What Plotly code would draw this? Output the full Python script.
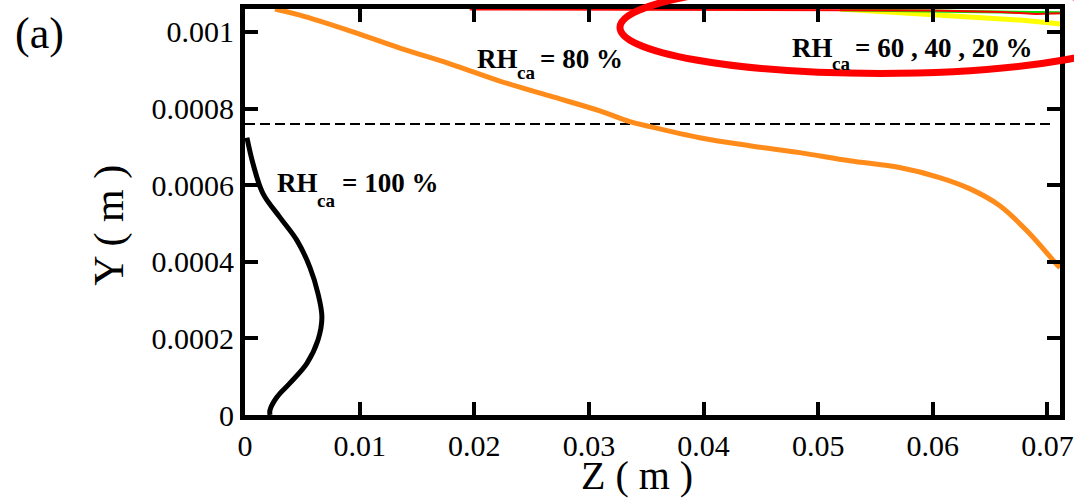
import plotly.graph_objects as go

# Z positions (m) and Y heights (m) of the liquid-water front for each cathode RH
z_rh100 = [0.00017, 0.0007, 0.00157, 0.00305, 0.00453, 0.00567, 0.00636, 0.00671,
           0.00636, 0.0054, 0.00392, 0.00279, 0.00218, 0.00218]
y_rh100 = [0.000724, 0.000656, 0.000578, 0.000516, 0.000456, 0.000385, 0.000318, 0.000255,
           0.000195, 0.000135, 0.0000833, 0.0000469, 0.000013, 0.0]

z_rh80 = [0.00262, 0.0048, 0.00915, 0.01351, 0.01787, 0.02223, 0.02659, 0.03095, 0.03357,
          0.03531, 0.03967, 0.04403, 0.04839, 0.05275, 0.0571, 0.06059, 0.06321, 0.06582,
          0.06844, 0.07088, 0.0711]
y_rh80 = [0.00106, 0.001044, 0.001003, 0.000958, 0.000917, 0.000872, 0.000833, 0.000794,
          0.000766, 0.000753, 0.000724, 0.000703, 0.000685, 0.000664, 0.000646, 0.00062,
          0.000591, 0.000547, 0.000474, 0.000391, 0.000385]

z_rh20 = [0.0519, 0.0560, 0.0597, 0.0640, 0.0676, 0.0708, 0.0711]
y_rh20 = [0.00106, 0.001052, 0.001046, 0.001039, 0.001031, 0.001022, 0.001021]

z_rh40 = [0.0519, 0.0560, 0.0620, 0.0660, 0.0700, 0.0711]
y_rh40 = [0.001058, 0.001056, 0.001053, 0.001052, 0.001051, 0.00105]

z_rh60 = [0.0196, 0.0300, 0.0400, 0.0500, 0.0600, 0.0660, 0.0690, 0.0711]
y_rh60 = [0.001059, 0.001058, 0.001058, 0.001057, 0.001056, 0.001052, 0.001047, 0.001049]

# channel / GDL interface height
z_interface = [0.0, 0.0705]
y_interface = [0.00076, 0.00076]

x_ticks = [0, 0.01, 0.02, 0.03, 0.04, 0.05, 0.06, 0.07]
x_tick_labels = ["0", "0.01", "0.02", "0.03", "0.04", "0.05", "0.06", "0.07"]
y_ticks = [0, 0.0002, 0.0004, 0.0006, 0.0008, 0.001]
y_tick_labels = ["0", "0.0002", "0.0004", "0.0006", "0.0008", "0.001"]

SERIF = "Liberation Serif, Times New Roman, serif"

fig = go.Figure()
fig.add_trace(go.Scatter(x=z_interface, y=y_interface, mode="lines",
                         line=dict(color="black", width=2, dash="10px,5px")))
fig.add_trace(go.Scatter(x=z_rh100, y=y_rh100, mode="lines",
                         line=dict(color="black", width=5, shape="spline")))
fig.add_trace(go.Scatter(x=z_rh80, y=y_rh80, mode="lines",
                         line=dict(color="#ff8c1a", width=5, shape="spline")))
fig.add_trace(go.Scatter(x=z_rh20, y=y_rh20, mode="lines",
                         line=dict(color="#ffff00", width=5)))
fig.add_trace(go.Scatter(x=z_rh40, y=y_rh40, mode="lines",
                         line=dict(color="#00e000", width=3)))
fig.add_trace(go.Scatter(x=z_rh60, y=y_rh60, mode="lines",
                         line=dict(color="#ff0000", width=2)))

axis_style = dict(showline=True, linewidth=5, linecolor="black", mirror="ticks",
                  ticks="inside", ticklen=13, tickwidth=4, tickcolor="black",
                  showgrid=False, zeroline=False, automargin=False,
                  ticklabeloverflow="allow",
                  tickfont=dict(family=SERIF, size=30, color="black"))

fig.update_xaxes(range=[0, 0.0711], tickvals=x_ticks, ticktext=x_tick_labels, **axis_style)
fig.update_yaxes(range=[0, 0.00106], tickvals=y_ticks, ticktext=y_tick_labels, **axis_style)

# axis titles
fig.add_annotation(xref="paper", yref="paper", x=0.481, y=-0.150, text="Z ( m )",
                   showarrow=False, xanchor="center", yanchor="middle",
                   font=dict(family=SERIF, size=40, color="black"))
fig.add_annotation(xref="paper", yref="paper", x=-0.166, y=0.468, text="Y ( m )",
                   showarrow=False, xanchor="center", yanchor="middle", textangle=-90,
                   font=dict(family=SERIF, size=42, color="black"))

bold = dict(family=SERIF, size=27, color="black", weight="bold")
sub = dict(family=SERIF, size=19, color="black", weight="bold")
labels = [
    # (x of "RH", y, x of subscript, y of subscript, x of rest, rest text)
    (0.00262, 0.000605, 0.0061, 0.00056, 0.00828, "= 100 %"),
    (0.02005, 0.00093, 0.02354, 0.000893, 0.02554, "= 80 %"),
    (0.04752, 0.000958, 0.0510, 0.000918, 0.05301, "= 60 , 40 , 20 %"),
]
for xr, yr, xs, ys, xe, rest in labels:
    fig.add_annotation(x=xr, y=yr, text="RH", showarrow=False, xanchor="left",
                       yanchor="middle", font=bold)
    fig.add_annotation(x=xs, y=ys, text="ca", showarrow=False, xanchor="left",
                       yanchor="middle", font=sub)
    fig.add_annotation(x=xe, y=yr, text=rest, showarrow=False, xanchor="left",
                       yanchor="middle", font=bold)

fig.add_annotation(xref="paper", yref="paper", x=-0.285, y=1.005, text="(a)",
                   showarrow=False, xanchor="left", yanchor="top",
                   font=dict(family=SERIF, size=44, color="black"))

# red highlight around the low-humidity fronts
fig.add_shape(type="circle", xref="paper", yref="paper",
              x0=0.4601, x1=1.0982, y0=0.8413, y1=1.0677,
              line=dict(color="#ff0000", width=7))

fig.update_layout(template="none", width=1074, height=500, showlegend=False,
                  plot_bgcolor="white", paper_bgcolor="white",
                  margin=dict(l=245, r=14, t=9, b=85))

fig.write_html("out.html")
